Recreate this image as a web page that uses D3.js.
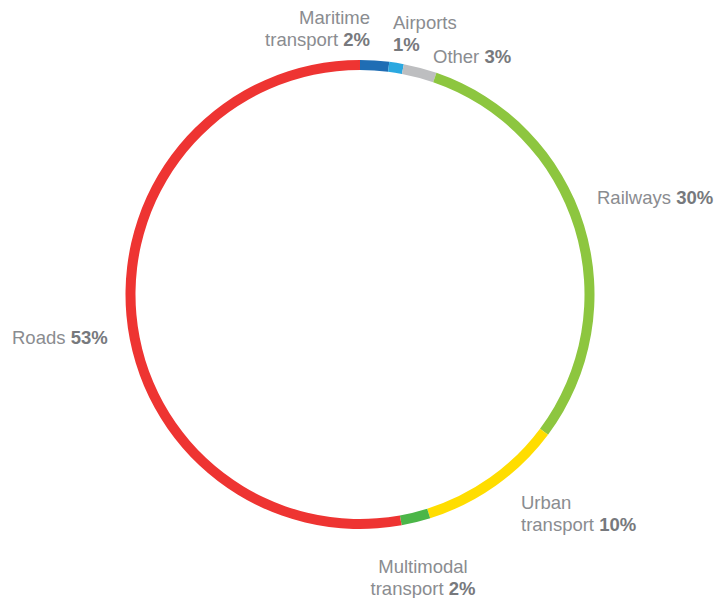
<!DOCTYPE html>
<html>
<head>
<meta charset="utf-8">
<script src="https://cdn.jsdelivr.net/npm/d3@7"></script>
<style>
  body { margin: 0; background: #fff; }
  text { font-family: "Liberation Sans", Arial, sans-serif; }
</style>
</head>
<body>
<div id="chart"></div>
<script>
// data (shares in %), clockwise from 12 o'clock
let categories = ['Maritime transport', 'Airports', 'Other', 'Railways', 'Urban transport', 'Multimodal transport', 'Roads'];
let values = [2, 1, 2.3, 30, 10, 2, 53];
let pctLabels = ['2%', '1%', '3%', '30%', '10%', '2%', '53%'];
// label text split in lines, pct goes after the last line
let labelLines = [['Maritime', 'transport'], ['Airports', ''], ['Other'], ['Railways'], ['Urban', 'transport'], ['Multimodal', 'transport'], ['Roads']];
let colors = ['#1f6db4', '#2aa8e0', '#bdbec0', '#8dc63f', '#ffdd00', '#4bb648', '#ee3432'];

// label layout: offset of first baseline from ring centre, text anchor
let labelLayout = [
  { x: 10, y: -271, anchor: 'end' },
  { x: 33, y: -266, anchor: 'start' },
  { x: 73, y: -232, anchor: 'start' },
  { x: 237, y: -91, anchor: 'start' },
  { x: 161, y: 214, anchor: 'start' },
  { x: 63, y: 278, anchor: 'middle' },
  { x: -348, y: 49, anchor: 'start' }
];

let width = 716, height = 598;
let cx = 360, cy = 294.5;
let radius = 229.5;
let thickness = 10;

let svg = d3.select('#chart')
  .append('svg')
  .attr('width', width)
  .attr('height', height);

let g = svg.append('g')
  .attr('transform', 'translate(' + cx + ',' + cy + ')');

let pie = d3.pie()
  .sort(null)
  .value(d => d);

let arc = d3.arc()
  .innerRadius(radius - thickness / 2)
  .outerRadius(radius + thickness / 2);

g.selectAll('.slice')
  .data(pie(values))
  .enter()
  .append('path')
  .attr('class', 'slice')
  .attr('d', arc)
  .style('fill', (d, i) => colors[i]);

// labels
let lineH = 22;
categories.forEach((c, i) => {
  let lay = labelLayout[i];
  let lines = labelLines[i];
  let t = g.append('text')
    .attr('x', lay.x)
    .attr('y', lay.y)
    .attr('text-anchor', lay.anchor)
    .attr('font-size', '18.5px')
    .attr('fill', '#8a8c90');
  lines.forEach((ln, j) => {
    let ts = t.append('tspan')
      .attr('x', lay.x)
      .attr('dy', j == 0 ? 0 : lineH);
    if (j < lines.length - 1) {
      ts.text(ln);
    } else {
      if (ln != '') ts.append('tspan').text(ln + ' ');
      ts.append('tspan')
        .attr('font-weight', 'bold')
        .attr('fill', '#77797d')
        .text(pctLabels[i]);
    }
  });
});
</script>
</body>
</html>
